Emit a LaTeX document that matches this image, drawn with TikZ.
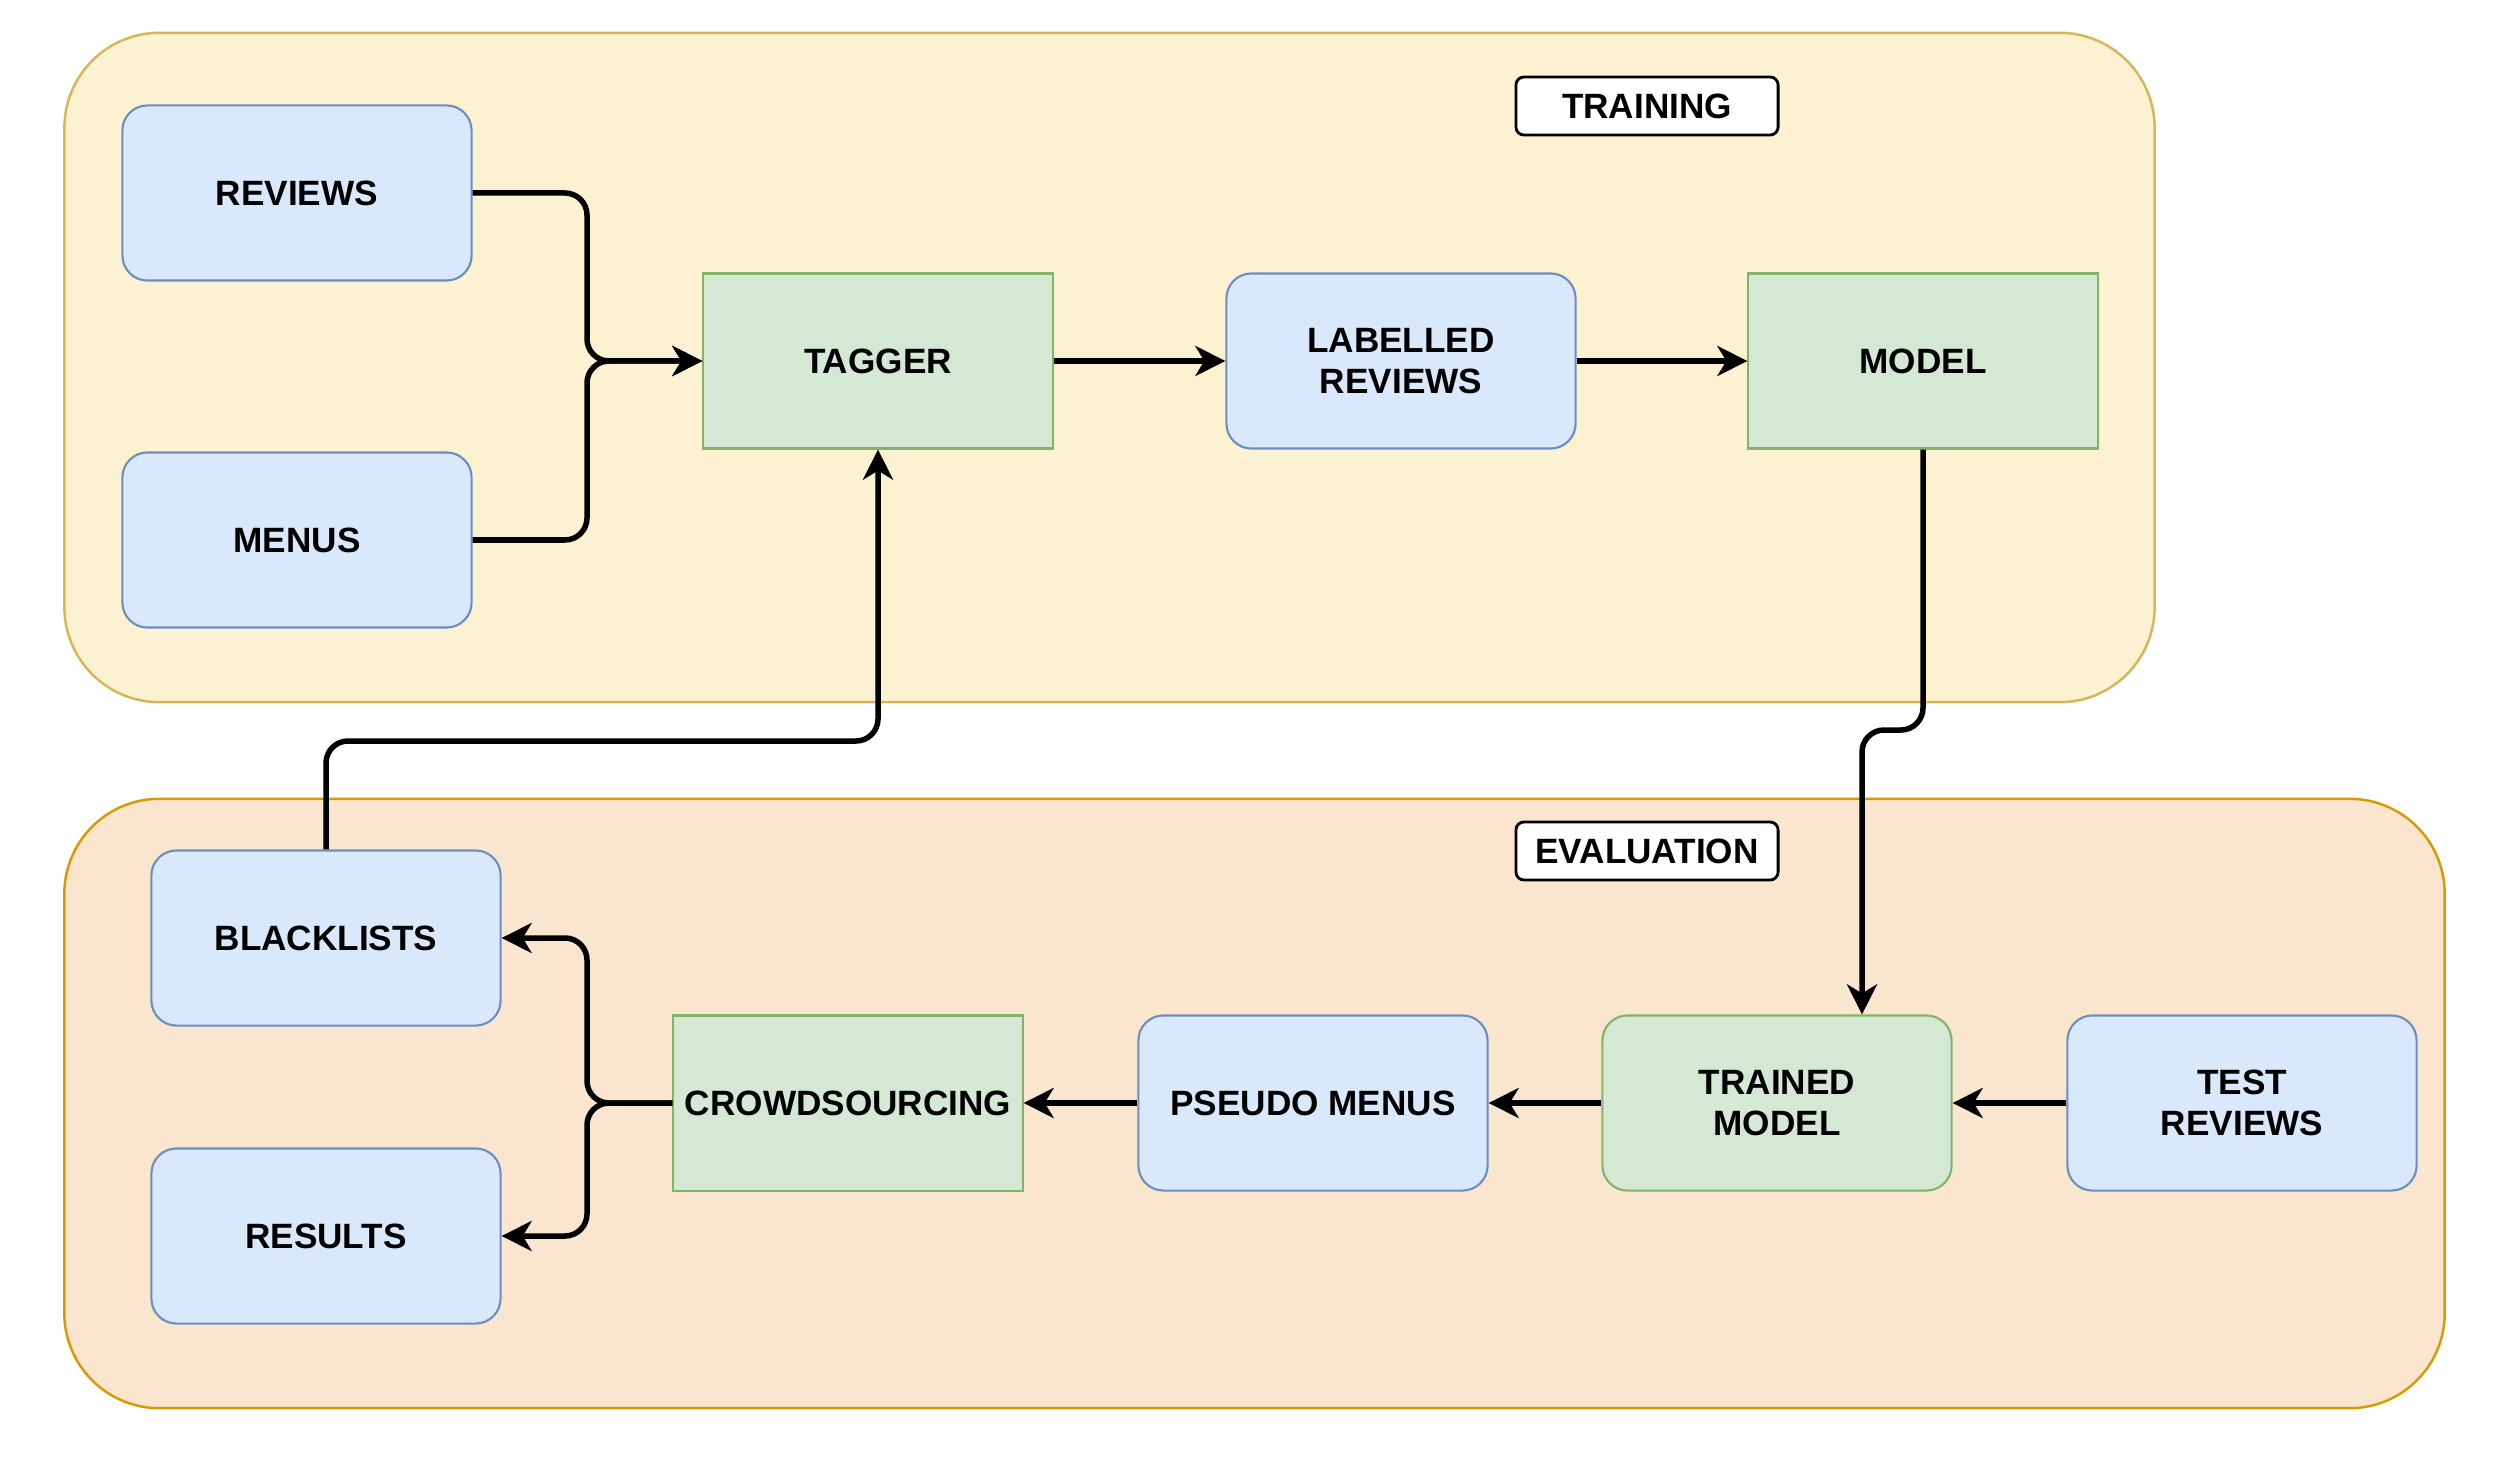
\documentclass[tikz,border=0pt]{standalone}
\usepackage{fontspec}
\setmainfont{Liberation Sans}
\usetikzlibrary{arrows.meta}
\definecolor{trainfill}{HTML}{FCF1D0}
\definecolor{trainline}{HTML}{D6B656}
\definecolor{evalfill}{HTML}{FAE6CF}
\definecolor{evalline}{HTML}{D79B00}
\definecolor{bluefill}{HTML}{DAE8FC}
\definecolor{blueline}{HTML}{6C8EBF}
\definecolor{greenfill}{HTML}{D5E8D4}
\definecolor{greenline}{HTML}{82B366}
\tikzset{
  txt/.style={font=\fontsize{10}{11.7}\selectfont\bfseries, align=center, text=black},
  bluebox/.style={txt, draw=blueline, fill=bluefill, line width=0.6pt, rounded corners=0.25cm,
    minimum width=3.49cm, minimum height=1.75cm, inner sep=0pt},
  greenbox/.style={txt, draw=greenline, fill=greenfill, line width=0.6pt,
    minimum width=3.49cm, minimum height=1.75cm, inner sep=0pt},
  greenrbox/.style={greenbox, rounded corners=0.25cm},
  tagbox/.style={txt, draw=black, fill=white, line width=0.8pt, rounded corners=0.08cm,
    minimum width=2.62cm, minimum height=0.58cm, inner sep=0pt},
  container/.style={line width=0.7pt, rounded corners=0.95cm, inner sep=0pt},
  conn/.style={line width=0.055cm, rounded corners=0.22cm,
    -{Stealth[length=0.3cm, width=0.3cm, inset=0.09cm]}},
}
\begin{document}
\begin{tikzpicture}[x=0.01cm, y=-0.01cm]
\useasboundingbox (0,0) rectangle (2500,1458);
% containers
\node[container, draw=trainline, fill=trainfill, minimum width=20.89cm, minimum height=6.69cm]
  (trainc) at (1109.5,367.5) {};
\node[container, draw=evalline, fill=evalfill, minimum width=23.79cm, minimum height=6.09cm]
  (evalc) at (1254.5,1103.5) {};
\node[tagbox] (trainlbl) at (1647,106) {TRAINING};
\node[tagbox] (evallbl) at (1647,851) {EVALUATION};
% nodes
\node[bluebox] (rev) at (297,193) {REVIEWS};
\node[bluebox] (men) at (297,540) {MENUS};
\node[greenbox] (tag) at (878,361) {TAGGER};
\node[bluebox] (lab) at (1401,361) {LABELLED\\REVIEWS};
\node[greenbox] (mod) at (1923,361) {MODEL};
\node[bluebox] (bl) at (326,938) {BLACKLISTS};
\node[bluebox] (res) at (326,1236) {RESULTS};
\node[greenbox] (cr) at (848,1103) {CROWDSOURCING};
\node[bluebox] (pm) at (1313,1103) {PSEUDO MENUS};
\node[greenrbox] (tm) at (1777,1103) {TRAINED\\MODEL};
\node[bluebox] (tr) at (2242,1103) {TEST\\REVIEWS};
% junction coordinates
\coordinate (j1) at (587,361);
\coordinate (j2) at (587,1103);
\coordinate (m1) at (1862,730);
\coordinate (b1) at (878,741);
% connectors
\draw[conn] (rev.east) -| (j1) -- (tag.west);
\draw[conn] (men.east) -| (j1) -- (tag.west);
\draw[conn] (tag.east) -- (lab.west);
\draw[conn] (lab.east) -- (mod.west);
\draw[conn] (mod.south) |- (m1) -- (m1 |- tm.north);
\draw[conn] (bl.north) |- (b1) -- (tag.south);
\draw[conn] (tr.west) -- (tm.east);
\draw[conn] (tm.west) -- (pm.east);
\draw[conn] (pm.west) -- (cr.east);
\draw[conn] (cr.west) -- (j2) |- (bl.east);
\draw[conn] (cr.west) -- (j2) |- (res.east);
\end{tikzpicture}
\end{document}
